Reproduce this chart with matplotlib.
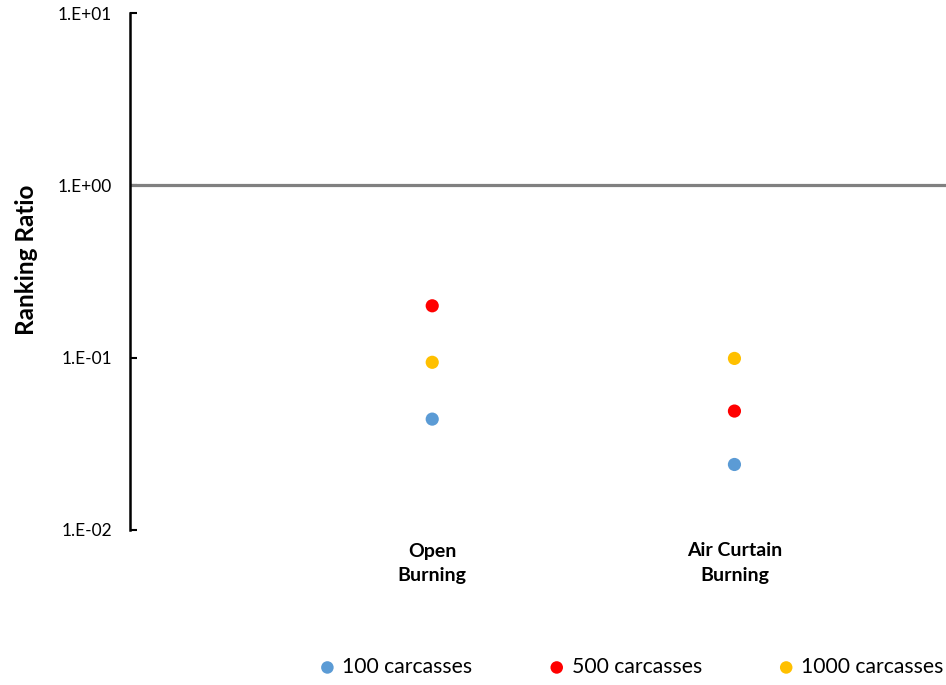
import matplotlib as mpl
mpl.use('Agg')

import numpy as np
import matplotlib.pyplot as plt
from matplotlib.ticker import FixedLocator, NullLocator

plt.rcParams['font.family'] = ['Lato', 'DejaVu Sans']

categories = ["Open\nBurning", "Air Curtain\nBurning"]
series_names = ["100 carcasses", "500 carcasses", "1000 carcasses"]
ratio_100 = [0.044, 0.024]
ratio_500 = [0.20, 0.049]
ratio_1000 = [0.094, 0.099]
yticks = [0.01, 0.1, 1, 10]
ytick_labels = ["1.E-02", "1.E-01", "1.E+00", "1.E+01"]

colors = ['#5B9BD5', '#FF0000', '#FFC000']

fig = plt.figure(figsize=(9.46, 6.85), dpi=100)
ax = fig.add_axes([130/946, 1-530/685, 1-130/946, (530-13)/685])

x = np.arange(1, len(categories)+1)
for vals, name, c in zip([ratio_100, ratio_500, ratio_1000], series_names, colors):
    ax.scatter(x, vals, s=90, color=c, edgecolor='none', label=name, zorder=3)

#reference line at ratio 1
ax.axhline(1.0, color='#808080', linewidth=2.3, zorder=2)

ax.set_yscale('log')
ax.set_ylim(0.01, 10)
ax.set_xlim(0, 2.7)
ax.yaxis.set_major_locator(FixedLocator(yticks))
ax.yaxis.set_minor_locator(NullLocator())
ax.set_yticklabels(ytick_labels, fontsize=12.5)
ax.tick_params(axis='y', direction='in', length=5, width=1.5, pad=13)

ax.set_xticks(x)
ax.set_xticklabels(categories, fontsize=14, fontweight='bold', linespacing=1.55)
ax.tick_params(axis='x', length=0, pad=9)

for s in ['top', 'right', 'bottom']:
    ax.spines[s].set_visible(False)
ax.spines['left'].set_linewidth(1.8)

ax.set_ylabel("Ranking Ratio", fontsize=17.5, fontweight='bold')
ax.yaxis.set_label_coords(-92/816, (530-260)/517)

fig.legend(loc='center left', bbox_to_anchor=(320/946, 1-667/685), ncol=3,
           frameon=False, fontsize=15.2, handlelength=0.7, handletextpad=0.35,
           columnspacing=3.65, borderpad=0, borderaxespad=0, markerscale=0.95)

fig.savefig("out.png", dpi=100)
